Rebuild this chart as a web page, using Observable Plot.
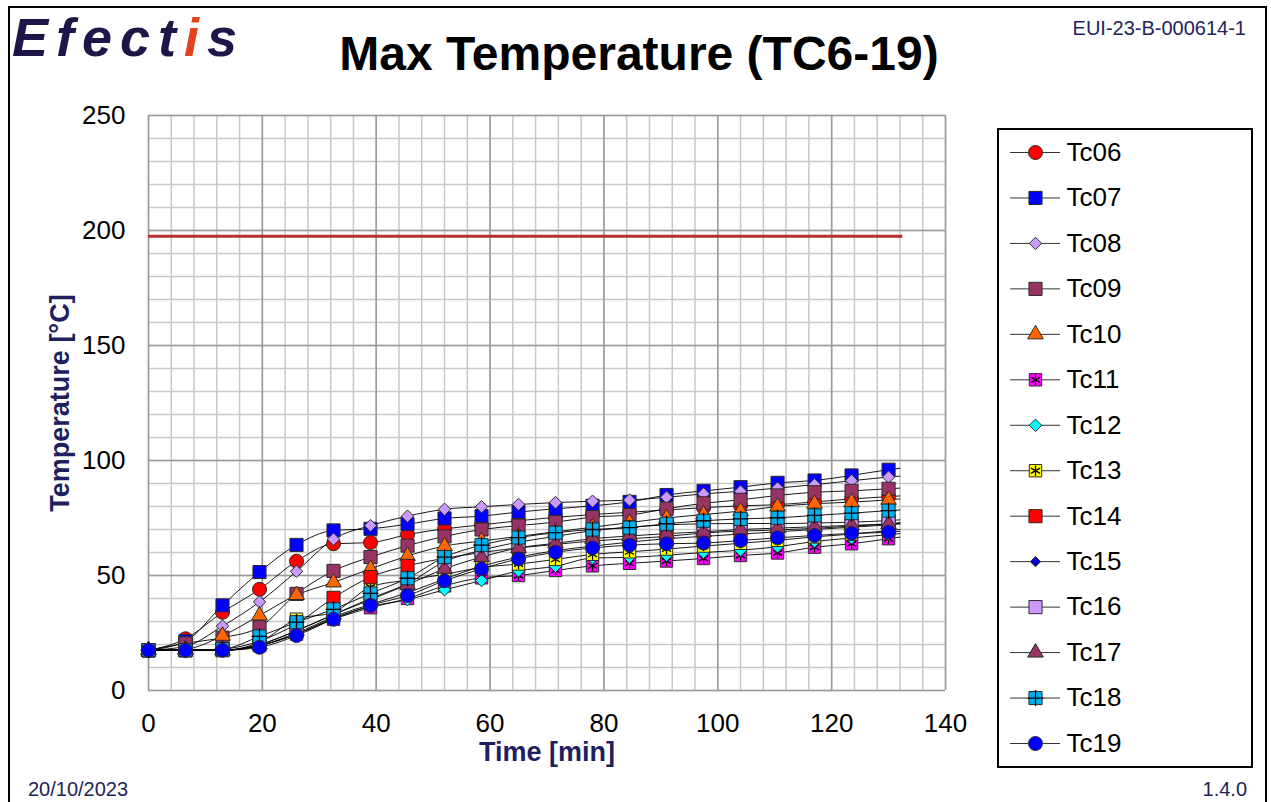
<!DOCTYPE html>
<html>
<head>
<meta charset="utf-8">
<script src="https://cdn.jsdelivr.net/npm/d3@7"></script>
<script src="https://cdn.jsdelivr.net/npm/@observablehq/plot@0.6"></script>
<style>
  body { margin: 0; background: #fff; font-family: "Liberation Sans", Arial, sans-serif; }
  #page { position: relative; width: 1271px; height: 802px; overflow: hidden; background: #fff; }
  #frame { position: absolute; left: 8px; top: 6px; width: 1259px; height: 820px; border: 2px solid #000; box-sizing: border-box; }
  #chart { position: absolute; left: 0; top: 0; }
  #chart svg, #legend svg { max-width: none; }
  #title { position: absolute; left: 0; width: 1278px; top: 30px; text-align: center; font-weight: bold; font-size: 48px; line-height: 1; color: #000; }
  .small { position: absolute; font-size: 20px; line-height: 1; color: #23235a; }
  #legend { position: absolute; left: 997px; top: 128px; width: 256px; height: 640px; border: 2px solid #000; box-sizing: border-box; background: #fff; }
  #legend svg { position: absolute; left: 0; top: 0; }
  #logo { position: absolute; left: 8px; top: 6px; }
</style>
</head>
<body>
<div id="page">
  <div id="frame"></div>
  <div id="chart"></div>
  <svg id="logo" width="260" height="85">
    <text x="4" y="50" font-family="Liberation Sans, Arial" font-style="italic" font-weight="bold" font-size="54" letter-spacing="8" fill="#1d1648">Efect<tspan fill="#e2431e">i</tspan>s</text>
  </svg>
  <div id="title">Max Temperature (TC6-19)</div>
  <div class="small" style="right:25px; top:18px;">EUI-23-B-000614-1</div>
  <div class="small" style="left:28px; top:779px;">20/10/2023</div>
  <div class="small" style="right:24px; top:779px;">1.4.0</div>
  <div id="legend"></div>
</div>
<script>
// ---- data ----
const times = [0, 6.5, 13, 19.5, 26, 32.5, 39, 45.5, 52, 58.5, 65, 71.5, 78, 84.5, 91, 97.5, 104, 110.5, 117, 123.5, 130, 132];
const markerCount = 21; // markers at the first 21 time points, lines run to the last
const seriesNames = ["Tc06","Tc07","Tc08","Tc09","Tc10","Tc11","Tc12","Tc13","Tc14","Tc15","Tc16","Tc17","Tc18","Tc19"];
const tc06 = [17.5, 22.5, 34, 44, 56.2, 63.8, 64.3, 67.8, 70.3, 72, 73.8, 75.3, 76.5, 77.5, 78.5, 79.5, 80.3, 80.8, 82, 83.3, 84.3, 84.6];
const tc07 = [17.5, 21.5, 37, 51.5, 63.3, 69.6, 70.3, 72.3, 74.8, 75.8, 77.6, 79, 80.3, 82, 85, 86.8, 88.4, 90.3, 91.3, 93.5, 96, 96.6];
const tc08 = [17.5, 19.2, 28, 38.5, 51.8, 65.8, 71.7, 75.8, 78.8, 79.9, 80.9, 81.7, 82.3, 82.8, 84, 85.5, 86.6, 88, 89.5, 91.2, 92.8, 93.2];
const tc09 = [17.5, 20.5, 23, 27.5, 42, 52, 58, 63, 67, 70, 71.7, 73.2, 75.4, 76.3, 79, 81.4, 82.9, 84.8, 86.2, 86.8, 87.7, 88];
const tc10 = [17.5, 18, 23.8, 32.6, 41.5, 47, 52.9, 58.5, 62.8, 65, 67, 69, 71, 73, 75, 76.5, 78, 80, 81.2, 81.9, 82.9, 83.3];
const tc11 = [17.5, 17.5, 17.5, 19.5, 24.5, 31, 36, 40, 45.5, 49, 50, 52.2, 54.2, 55.3, 56.3, 57.4, 58.7, 59.8, 62.3, 63.8, 66, 66.7];
const tc12 = [17.5, 17.5, 17.5, 19.5, 24.5, 31.5, 36.5, 39.5, 43.8, 47.8, 52, 54, 57.6, 57.9, 58.8, 60, 61, 62.5, 64.8, 66.3, 67.8, 68.2];
const tc13 = [17.5, 17.5, 17.5, 21, 31, 34, 45, 48, 50.5, 53.5, 55, 57, 59.2, 60.3, 61.5, 62.8, 64, 65.3, 66.8, 68, 69.5, 70];
const tc14 = [17.5, 17.5, 18, 21.5, 29, 40.3, 49.3, 54.2, 57.5, 60, 62, 63.5, 65, 66, 67, 68.5, 69.3, 69.8, 70.5, 71.5, 72.5, 73];
const tc15 = [17.5, 17.5, 17.5, 19.5, 25, 32, 37.5, 42.5, 48.5, 54, 58, 60.8, 62.8, 64.5, 66, 67, 68, 69, 70, 71, 72, 72.4];
const tc16 = [17.5, 17.5, 17.5, 20, 26, 33, 40, 46.5, 56, 61, 64.5, 67, 69.5, 71, 72, 72.5, 72.6, 72.6, 72.8, 73.2, 73.9, 74.2];
const tc17 = [17.5, 17.5, 17.5, 20, 26, 33, 39.5, 46, 52.9, 58, 62, 64, 66, 67.2, 68.2, 69, 70, 70.6, 71.2, 71.8, 72.4, 72.7];
const tc18 = [17.5, 17.5, 18, 23.5, 29.7, 35.3, 42.2, 48.8, 58, 63.2, 66.5, 68.6, 70, 70.8, 72.5, 73.8, 74.6, 75.1, 76.1, 77.1, 78.2, 78.5];
const tc19 = [17.5, 17.5, 17.5, 18.8, 23.9, 31, 37, 41.3, 47.7, 52.9, 57.2, 60.1, 62, 63.2, 63.8, 64.1, 65.2, 66.4, 67.4, 68.3, 68.8, 69.2];
const limitValue = 197.5;
const limitEnd = 132.5;
const xTicks = [0, 20, 40, 60, 80, 100, 120, 140];
const yTicks = [0, 50, 100, 150, 200, 250];
const xLabel = "Time [min]";
const yLabel = "Temperature [°C]";

// ---- styles per series ----
const seriesValues = [tc06, tc07, tc08, tc09, tc10, tc11, tc12, tc13, tc14, tc15, tc16, tc17, tc18, tc19];
const styles = {
  Tc06: {symbol: "circle",   fill: "#ff0000", r: 7},
  Tc07: {symbol: "square",   fill: "#0000ff", r: 7.4},
  Tc08: {symbol: "diamond2", fill: "#cc99ff", r: 5.6},
  Tc09: {symbol: "square",   fill: "#993366", r: 7.4},
  Tc10: {symbol: "triangle", fill: "#ff6600", r: 5.8},
  Tc11: {symbol: "square",   fill: "#ff00ff", r: 7.0, overlay: "asterisk"},
  Tc12: {symbol: "diamond2", fill: "#00ffff", r: 5.6},
  Tc13: {symbol: "square",   fill: "#ffff00", r: 7.0, overlay: "asterisk"},
  Tc14: {symbol: "square",   fill: "#ff0000", r: 7.4},
  Tc15: {symbol: "diamond2", fill: "#0000cc", r: 4.6},
  Tc16: {symbol: "square",   fill: "#cc99ff", r: 7.4},
  Tc17: {symbol: "triangle", fill: "#993366", r: 5.8},
  Tc18: {symbol: "square",   fill: "#00b0f0", r: 7.4, overlay: "plus"},
  Tc19: {symbol: "circle",   fill: "#0000ff", r: 7}
};

const rows = [];
seriesNames.forEach((s, i) => {
  seriesValues[i].forEach((v, j) => rows.push({s, t: times[j], v, marker: j < markerCount}));
});
const markerRows = rows.filter(d => d.marker);

function seriesMarks(data, xAcc, yAcc) {
  const marks = [];
  for (const s of seriesNames) {
    const st = styles[s];
    const sub = data.filter(d => d.s === s);
    marks.push(Plot.dot(sub, {x: xAcc, y: yAcc, symbol: st.symbol, fill: st.fill, stroke: "#2a2a2a", strokeWidth: 1, r: st.r}));
    if (st.overlay) {
      marks.push(Plot.dot(sub, {x: xAcc, y: yAcc, symbol: st.overlay, fill: "none", stroke: "#000", strokeWidth: 1.3, r: st.overlay === "plus" ? 5.2 : 5.0}));
    }
  }
  return marks;
}

const chart = Plot.plot({
  width: 1271,
  height: 802,
  marginLeft: 148,
  marginRight: 326,
  marginTop: 115,
  marginBottom: 112,
  x: {domain: [0, 140]},
  y: {domain: [0, 250]},
  style: {fontFamily: "'Liberation Sans', Arial, sans-serif", fontSize: "26px", color: "#000", background: "transparent", overflow: "visible"},
  marks: [
    Plot.ruleX(d3.range(0, 141, 4), {stroke: "#c8c8c8", strokeWidth: 1.5}),
    Plot.ruleY(d3.range(0, 251, 10), {stroke: "#c8c8c8", strokeWidth: 1.5}),
    Plot.ruleX(xTicks, {stroke: "#9a9a9a", strokeWidth: 1.5}),
    Plot.ruleY(yTicks, {stroke: "#9a9a9a", strokeWidth: 1.5}),
    Plot.axisX({ticks: xTicks, tickSize: 0, tickPadding: 23, label: null, tickFormat: d => String(d)}),
    Plot.axisY({ticks: yTicks, tickSize: 0, tickPadding: 23, label: null, tickFormat: d => String(d)}),
    Plot.ruleY([limitValue], {x1: 0, x2: limitEnd, stroke: "#b8302a", strokeWidth: 3.2}),
    Plot.line(rows, {x: "t", y: "v", z: "s", stroke: "#000", strokeWidth: 0.9, curve: "monotone-x"}),
    ...seriesMarks(markerRows, "t", "v"),
    Plot.text([xLabel], {frameAnchor: "bottom", dy: 70, textAnchor: "middle", fontWeight: "bold", fontSize: 27, fill: "#1f1f5f"}),
    Plot.text([yLabel], {frameAnchor: "left", dx: -88, rotate: -90, textAnchor: "middle", fontWeight: "bold", fontSize: 27, fill: "#1f1f5f"})
  ]
});
document.getElementById("chart").appendChild(chart);

// ---- legend ----
const legendRows = seriesNames.map(s => ({s, t: 0.5}));
const legend = Plot.plot({
  width: 252,
  height: 636,
  margin: 0,
  x: {domain: [0, 1], range: [11, 61], axis: null},
  y: {type: "point", domain: seriesNames, range: [22, 613], padding: 0, round: false, axis: null},
  style: {fontFamily: "'Liberation Sans', Arial, sans-serif", fontSize: "26px", background: "transparent", overflow: "visible"},
  marks: [
    Plot.ruleY(seriesNames, {y: d => d, x1: 0, x2: 1, stroke: "#333", strokeWidth: 1}),
    ...seriesMarks(legendRows, "t", "s"),
    Plot.text(seriesNames, {y: d => d, x: 1, dx: 6, text: d => d, textAnchor: "start", fontSize: 26, fill: "#000"})
  ]
});
document.getElementById("legend").appendChild(legend);
</script>
</body>
</html>
